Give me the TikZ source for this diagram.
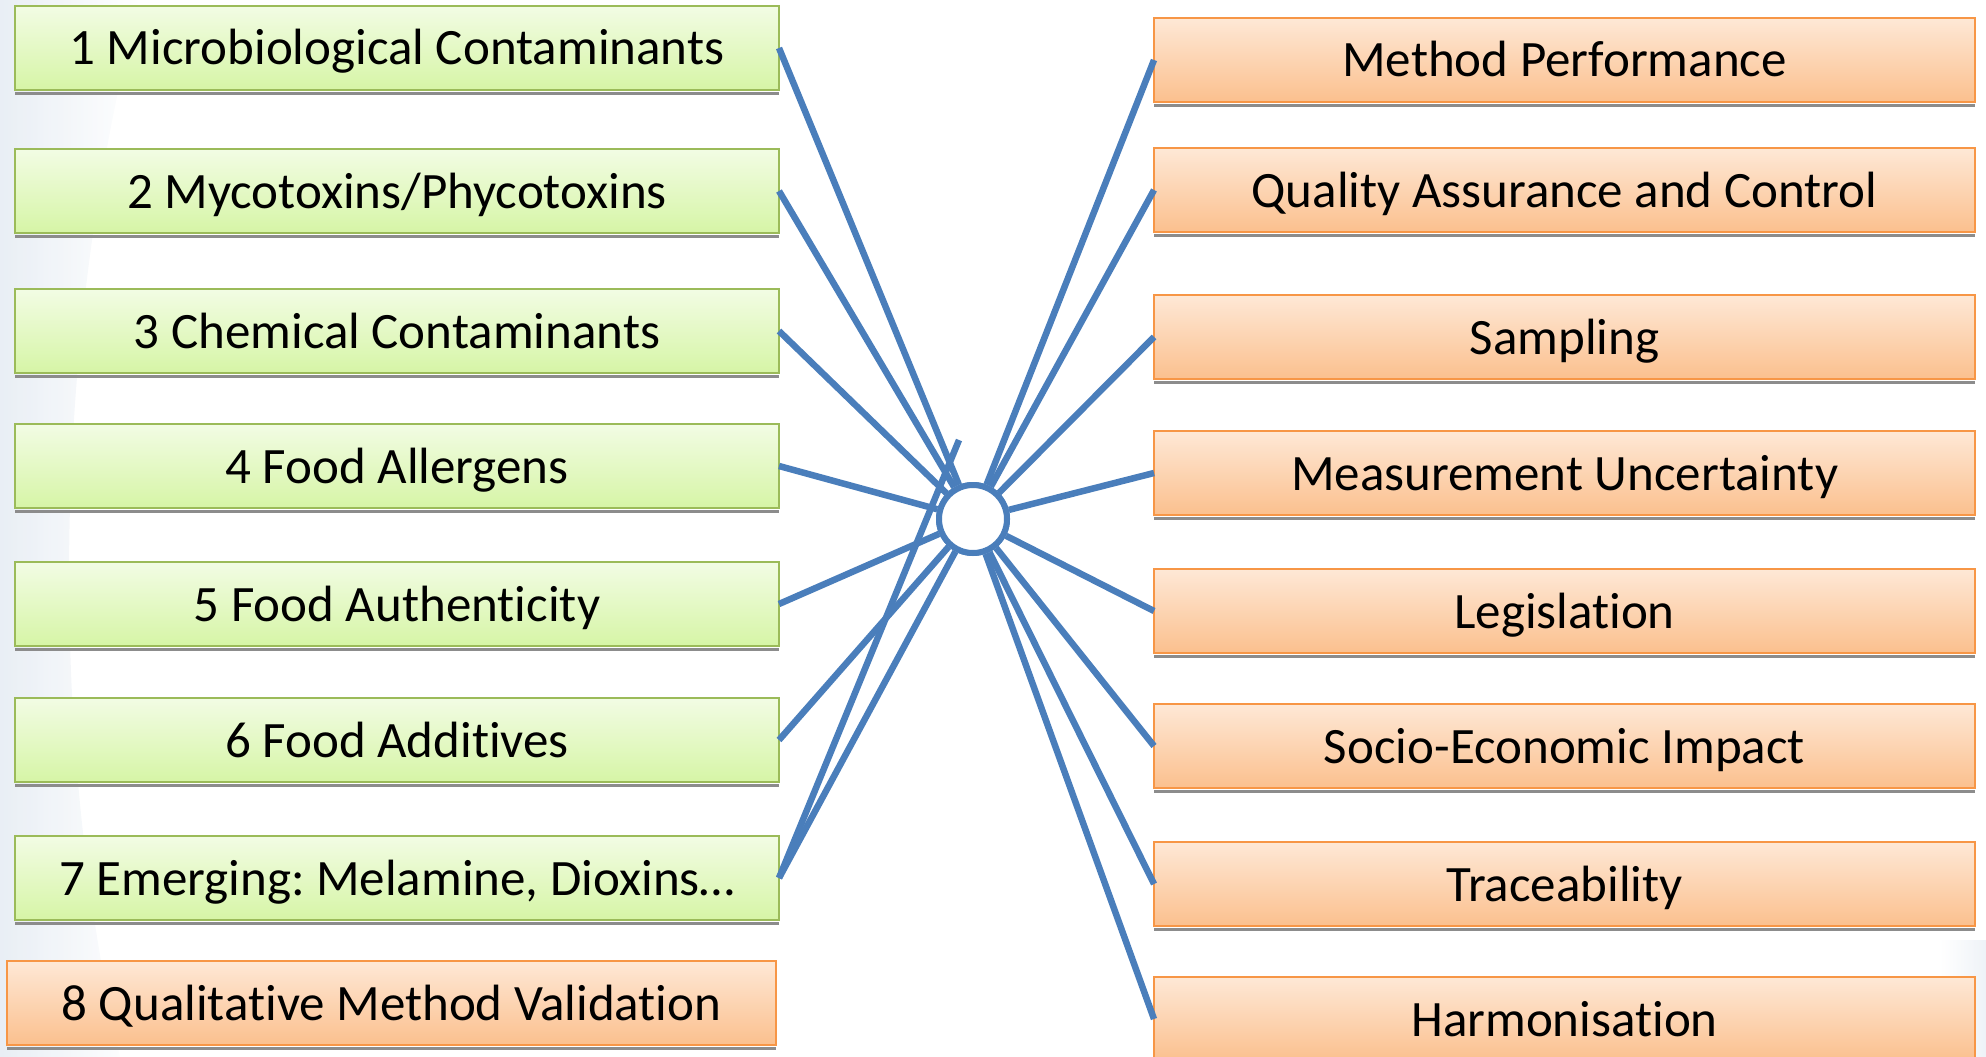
\documentclass[tikz,border=0pt]{standalone}
\usepackage{fontspec}
\setmainfont{Carlito}[RawFeature={-liga;-clig}]
\frenchspacing
\definecolor{gtop}{HTML}{F2FCE4}
\definecolor{gbot}{HTML}{D6F5A6}
\definecolor{gline}{HTML}{9BBB59}
\definecolor{otop}{HTML}{FEE8D6}
\definecolor{obot}{HTML}{FBC08E}
\definecolor{oline}{HTML}{F79646}
\definecolor{conn}{HTML}{4A7EBB}
\definecolor{shadowc}{HTML}{8C8C8C}
\definecolor{bgblue}{HTML}{E3EAF2}
\begin{document}
\begin{tikzpicture}[x=1pt,y=-1pt,
  box/.style={anchor=north west, inner sep=0pt, outer sep=0pt, minimum height=84pt,
    text height=34pt, text depth=0pt,
    font=\fontsize{51}{60}\selectfont\frenchspacing, text=black},
  greenbox/.style={box, draw=gline, line width=2.5pt, top color=gtop, bottom color=gbot, minimum width=764pt},
  orangebox/.style={box, draw=oline, line width=2.5pt, top color=otop, bottom color=obot, minimum width=821pt},
  link/.style={draw=conn, line width=6.5pt},
  hub/.style={circle, draw=conn, line width=6pt, fill=white, minimum size=68pt, inner sep=0pt}
]
\useasboundingbox (0,0) rectangle (1986,1057);
% faint slide background
\shade[left color=bgblue, right color=white, opacity=0.8]
  (0,0) -- (140,0) .. controls (60,300) and (40,700) .. (120,1057) -- (0,1057) -- cycle;
\shade[left color=white, right color=bgblue, opacity=0.6]
  (1940,940) -- (1986,940) -- (1986,1057) -- (1940,1057) -- cycle;

% left boxes
\node[greenbox] (L1) at (15,6)   {1 Microbiological Contaminants};
\node[greenbox] (L2) at (15,149) {2 Mycotoxins/Phycotoxins};
\node[greenbox] (L3) at (15,289) {3 Chemical Contaminants};
\node[greenbox] (L4) at (15,424) {4 Food Allergens};
\node[greenbox] (L5) at (15,562) {5 Food Authenticity};
\node[greenbox] (L6) at (15,698) {6 Food Additives};
\node[greenbox] (L7) at (15,836) {7 Emerging: Melamine, Dioxins…};
\node[orangebox, minimum width=769pt] (L8) at (7,961) {8 Qualitative Method Validation};

% right boxes
\node[orangebox] (R1) at (1154,18)  {Method Performance};
\node[orangebox] (R2) at (1154,148) {Quality Assurance and Control};
\node[orangebox] (R3) at (1154,295) {Sampling};
\node[orangebox] (R4) at (1154,431) {Measurement Uncertainty};
\node[orangebox] (R5) at (1154,569) {Legislation};
\node[orangebox] (R6) at (1154,704) {Socio-Economic Impact};
\node[orangebox] (R7) at (1154,842) {Traceability};
\node[orangebox] (R8) at (1154,977) {Harmonisation};

% shadows
\foreach \n in {L1,L2,L3,L4,L5,L6,L7,L8,R1,R2,R3,R4,R5,R6,R7}
  \fill[shadowc] ([yshift=-1.5pt]\n.south west) rectangle ([yshift=-5pt]\n.south east);

% hub
\node[hub] (c) at (973,519) {};
\coordinate (f7) at (959,440);

% connectors
\foreach \n in {L1,L2,L3,L4,L5,L6,L7}
  \draw[link] (\n.east) -- (c);
\foreach \n in {R1,R2,R3,R4,R5,R6,R7,R8}
  \draw[link] (\n.west) -- (c);
\draw[link] (L7.east) -- (f7);
\node[hub] at (c) {};
\end{tikzpicture}
\end{document}
